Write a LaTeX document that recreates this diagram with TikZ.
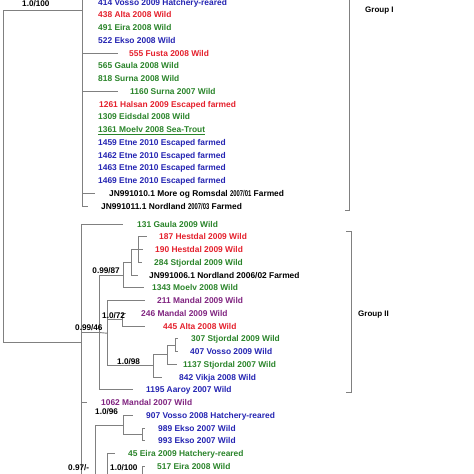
\documentclass[tikz,border=0pt]{standalone}
\usepackage{fontspec}
\setmainfont{Liberation Sans}
\definecolor{tblue}{RGB}{36,36,178}
\definecolor{tred}{RGB}{228,32,44}
\definecolor{tgreen}{RGB}{42,132,42}
\definecolor{tpurple}{RGB}{128,36,128}
\definecolor{lgray}{RGB}{128,128,128}
\tikzset{
  br/.style={draw=lgray, line width=0.9pt},
  lf/.style={anchor=base west, inner sep=0pt, font=\fontsize{8.4}{9}\selectfont\bfseries},
  supp/.style={anchor=base west, inner sep=0pt, font=\fontsize{8.2}{9}\selectfont\bfseries, text=black},
  grp/.style={anchor=base west, inner sep=0pt, font=\fontsize{8}{9}\selectfont\bfseries, text=black},
}
\newcommand{\sq}[1]{\scalebox{0.7}[1]{#1}}
\begin{document}
\begin{tikzpicture}[x=1pt,y=-1pt]
\useasboundingbox (0,0) rectangle (474,474);
\clip (0,0) rectangle (474,474);

% ---------- tree coordinates ----------
\coordinate (root) at (3,342);
\coordinate (n1) at (82,10);
\coordinate (n1top) at (82,-8);
\coordinate (n2) at (81,342);
% group I tips with lines
\coordinate (e555) at (118,53);
\coordinate (e1160) at (118,91.25);
\coordinate (eJ10) at (95,193.25);
\coordinate (eJ11) at (88,206);
% group II
\coordinate (e131) at (123,224);
\coordinate (nA) at (99,332.5);
\coordinate (nB) at (123,275);
\coordinate (nN2) at (131,262.25);
\coordinate (nN1) at (138,249.5);
\coordinate (e187) at (147,236.75);
\coordinate (e190) at (143,249.5);
\coordinate (e284) at (142,262.25);
\coordinate (eJ06) at (138,275);
\coordinate (e1343) at (144,287.75);
\coordinate (nC) at (107,333.2);
\coordinate (e211) at (145,300.5);
\coordinate (nD) at (122,319.6);
\coordinate (e246) at (126,313.25);
\coordinate (e445) at (145,326);
\coordinate (nE) at (153,365.9);
\coordinate (nF) at (167,354.7);
\coordinate (nG) at (175,345.1);
\coordinate (e307) at (178,338.75);
\coordinate (e407) at (178,351.5);
\coordinate (e1137) at (177,364.25);
\coordinate (e842) at (162,377);
\coordinate (e1195) at (133,389.75);
\coordinate (e1062) at (87,402.5);
\coordinate (nH) at (95,478);
\coordinate (nI) at (123,425.5);
\coordinate (e907) at (133,415.25);
\coordinate (nJ) at (142,434.4);
\coordinate (e989) at (145,428);
\coordinate (e993) at (145,440.75);
\coordinate (nK) at (107,492);
\coordinate (e45) at (115,453.5);
\coordinate (nL) at (142,480);
\coordinate (e517) at (145,466.25);

% ---------- branches ----------
\draw[br] (root) |- (n1);
\draw[br] (root) -- (n2);
\draw[br] (n1) -- (n1top);
\draw[br] (n1) |- (e555);
\draw[br] (n1) |- (e1160);
\draw[br] (n1) |- (eJ10);
\draw[br] (n1) |- (eJ11);

\draw[br] (n2) |- (e131);
\draw[br] (n2) |- (nA);
\draw[br] (nA) |- (nB);
\draw[br] (nB) |- (nN2);
\draw[br] (nB) |- (e1343);
\draw[br] (nN2) |- (nN1);
\draw[br] (nN2) |- (eJ06);
\draw[br] (nN1) |- (e187);
\draw[br] (nN1) -- (e190);
\draw[br] (nN1) |- (e284);
\draw[br] (nA) -- (nC);
\draw[br] (nA) |- (e1195);
\draw[br] (nC) |- (e211);
\draw[br] (nC) |- (nD);
\draw[br] (nD) |- (e246);
\draw[br] (nD) |- (e445);
\draw[br] (nC) |- (nE);
\draw[br] (nE) |- (nF);
\draw[br] (nE) |- (e842);
\draw[br] (nF) |- (nG);
\draw[br] (nF) |- (e1137);
\draw[br] (nG) |- (e307);
\draw[br] (nG) |- (e407);
\draw[br] (n2) |- (e1062);
\draw[br] (n2) |- (nH);
\draw[br] (nH) |- (nI);
\draw[br] (nI) |- (e907);
\draw[br] (nI) |- (nJ);
\draw[br] (nJ) |- (e989);
\draw[br] (nJ) |- (e993);
\draw[br] (nH) |- (nK);
\draw[br] (nK) |- (e45);
\draw[br] (nK) |- (nL);
\draw[br] (nL) |- (e517);

% ---------- group brackets ----------
\coordinate (b1t) at (349,-8);
\coordinate (b1b) at (349,210);
\coordinate (b1h) at (345,210);
\draw[br] (b1t) -- (b1b) -- (b1h);
\coordinate (b2a) at (346,231);
\coordinate (b2b) at (351,231);
\coordinate (b2c) at (351,392);
\coordinate (b2d) at (346,392);
\draw[br] (b2a) -- (b2b) -- (b2c) -- (b2d);
\node[grp] (g1) at (365,12) {Group I};
\node[grp] (g2) at (358,316) {Group II};

% ---------- group I labels ----------
\node[lf,text=tblue]  (t414)  at (98,5)      {414 Vosso 2009 Hatchery-reared};
\node[lf,text=tred]   (t438)  at (98,17.75)  {438 Alta 2008 Wild};
\node[lf,text=tgreen] (t491)  at (98,30.5)   {491 Eira 2008 Wild};
\node[lf,text=tblue]  (t522)  at (98,43.25)  {522 Ekso 2008 Wild};
\node[lf,text=tred]   (t555)  at (129,56)    {555 Fusta 2008 Wild};
\node[lf,text=tgreen] (t565)  at (98,68.75)  {565 Gaula 2008 Wild};
\node[lf,text=tgreen] (t818)  at (98,81.5)   {818 Surna 2008 Wild};
\node[lf,text=tgreen] (t1160) at (130,94.25) {1160 Surna 2007 Wild};
\node[lf,text=tred]   (t1261) at (99,107)    {1261 Halsan 2009 Escaped farmed};
\node[lf,text=tgreen] (t1309) at (98,119.75) {1309 Eidsdal 2008 Wild};
\node[lf,text=tgreen] (t1361) at (98,132.5)  {\underline{1361 Moelv 2008 Sea-Trout}};
\node[lf,text=tblue]  (t1459) at (98,145.25) {1459 Etne 2010 Escaped farmed};
\node[lf,text=tblue]  (t1462) at (98,158)    {1462 Etne 2010 Escaped farmed};
\node[lf,text=tblue]  (t1463) at (98,170.75) {1463 Etne 2010 Escaped farmed};
\node[lf,text=tblue]  (t1469) at (98,183.5)  {1469 Etne 2010 Escaped farmed};
\node[lf,text=black]  (tJ10)  at (109,196.25) {JN991010.1 More og Romsdal \sq{2007/01} Farmed};
\node[lf,text=black]  (tJ11)  at (101,209)    {JN991011.1 Nordland \sq{2007/03} Farmed};

% ---------- group II labels ----------
\node[lf,text=tgreen]  (t131)  at (137,227)    {131 Gaula 2009 Wild};
\node[lf,text=tred]    (t187)  at (159,239.75) {187 Hestdal 2009 Wild};
\node[lf,text=tred]    (t190)  at (155,252.5)  {190 Hestdal 2009 Wild};
\node[lf,text=tgreen]  (t284)  at (154,265.25) {284 Stjordal 2009 Wild};
\node[lf,text=black]   (tJ06)  at (149,278)    {JN991006.1 Nordland 2006/02 Farmed};
\node[lf,text=tgreen]  (t1343) at (152,290.75) {1343 Moelv 2008 Wild};
\node[lf,text=tpurple] (t211)  at (157,303.5)  {211 Mandal 2009 Wild};
\node[lf,text=tpurple] (t246)  at (141,316.25) {246 Mandal 2009 Wild};
\node[lf,text=tred]    (t445)  at (163,329)    {445 Alta 2008 Wild};
\node[lf,text=tgreen]  (t307)  at (191,341.75) {307 Stjordal 2009 Wild};
\node[lf,text=tblue]   (t407)  at (190,354.5)  {407 Vosso 2009 Wild};
\node[lf,text=tgreen]  (t1137) at (183,367.25) {1137 Stjordal 2007 Wild};
\node[lf,text=tblue]   (t842)  at (179,380)    {842 Vikja 2008 Wild};
\node[lf,text=tblue]   (t1195) at (146,392.75) {1195 Aaroy 2007 Wild};
\node[lf,text=tpurple] (t1062) at (101,405.5)  {1062 Mandal 2007 Wild};
\node[lf,text=tblue]   (t907)  at (146,418.25) {907 Vosso 2008 Hatchery-reared};
\node[lf,text=tblue]   (t989)  at (158,431)    {989 Ekso 2007 Wild};
\node[lf,text=tblue]   (t993)  at (158,443.75) {993 Ekso 2007 Wild};
\node[lf,text=tgreen]  (t45)   at (128,456.5)  {45 Eira 2009 Hatchery-reared};
\node[lf,text=tgreen]  (t517)  at (157,469.25) {517 Eira 2008 Wild};

% ---------- support values ----------
\node[supp] (s1) at (22,6.5) {1.0/100};
\node[supp,anchor=base east] (s2) at (120,273) {0.99/87};
\node[supp] (s3) at (102,318.5) {1.0/72};
\node[supp] (s4) at (75,330) {0.99/46};
\node[supp] (s5) at (117,364) {1.0/98};
\node[supp] (s6) at (95,414) {1.0/96};
\node[supp] (s7) at (68,470) {0.97/-};
\node[supp] (s8) at (110,470) {1.0/100};
\end{tikzpicture}
\end{document}
